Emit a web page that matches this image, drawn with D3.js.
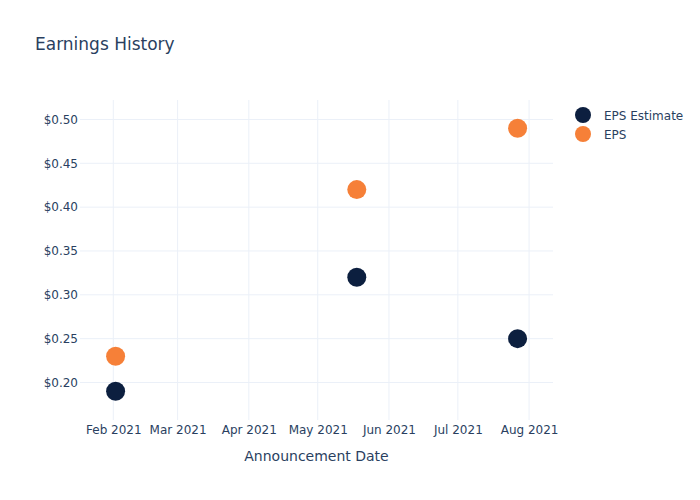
<!DOCTYPE html>
<html>
<head>
<meta charset="utf-8">
<script src="https://cdn.jsdelivr.net/npm/d3@7"></script>
<style>
  body { margin: 0; background: #fff; }
  text { font-family: "DejaVu Sans", sans-serif; fill: #2a3f5f; }
</style>
</head>
<body>
<svg id="chart"></svg>
<script>
const dates = ['2021-02-02', '2021-05-18', '2021-07-27'];
const epsEstimate = [0.19, 0.32, 0.25];
const eps = [0.23, 0.42, 0.49];
const yTicks = [0.20, 0.25, 0.30, 0.35, 0.40, 0.45, 0.50];
const seriesNames = ['EPS Estimate', 'EPS'];
const seriesColors = ['#0c1f3f', '#f68038'];

const width = 700;
const height = 500;
const margin = { top: 100, right: 147, bottom: 80, left: 80 };
const svg = d3.select('#chart').attr('width', width).attr('height', height);

const parse = d3.timeParse('%Y-%m-%d');
const xScale = d3.scaleTime()
  .domain([new Date(2021, 0, 17, 12), new Date(2021, 7, 11, 10)])
  .range([margin.left, width - margin.right]);

const yScale = d3.scaleLinear()
  .domain([0.1572, 0.5222])
  .range([height - margin.bottom, margin.top]);

// gridlines
const xTicks = d3.timeMonth.range(new Date(2021, 1, 1), new Date(2021, 7, 2));
svg.append('g')
  .selectAll('line')
  .data(xTicks)
  .join('line')
  .attr('x1', d => xScale(d)).attr('x2', d => xScale(d))
  .attr('y1', margin.top).attr('y2', height - margin.bottom)
  .attr('stroke', '#ebf0f8').attr('stroke-width', 1);

svg.append('g')
  .selectAll('line')
  .data(yTicks)
  .join('line')
  .attr('x1', margin.left).attr('x2', width - margin.right)
  .attr('y1', d => yScale(d)).attr('y2', d => yScale(d))
  .attr('stroke', '#ebf0f8').attr('stroke-width', 1);

// axes
const axisx = d3.axisBottom(xScale)
  .tickValues(xTicks)
  .tickFormat(d3.timeFormat('%b %Y'))
  .tickSize(0)
  .tickPadding(5);
const gx = svg.append('g')
  .attr('transform', `translate(0,${height - margin.bottom})`)
  .call(axisx);
gx.select('.domain').remove();
gx.selectAll('text').style('font-size', '12px').attr('fill', '#2a3f5f');

const axisy = d3.axisLeft(yScale)
  .tickValues(yTicks)
  .tickFormat(d => `$${d.toFixed(2)}`)
  .tickSize(0)
  .tickPadding(2);
const gy = svg.append('g')
  .attr('transform', `translate(${margin.left},0)`)
  .call(axisy);
gy.select('.domain').remove();
gy.selectAll('text').style('font-size', '12px').attr('fill', '#2a3f5f');

// points
const series = [epsEstimate, eps];
series.forEach((values, i) => {
  svg.append('g')
    .selectAll('circle')
    .data(values.map((v, j) => ({ date: parse(dates[j]), value: v })))
    .join('circle')
    .attr('cx', d => xScale(d.date))
    .attr('cy', d => yScale(d.value))
    .attr('r', 9.5)
    .attr('fill', seriesColors[i]);
});

// title
svg.append('text')
  .attr('x', 35).attr('y', 50)
  .style('font-size', '17px')
  .text('Earnings History');

// x axis title
svg.append('text')
  .attr('x', (margin.left + width - margin.right) / 2)
  .attr('y', 461)
  .attr('text-anchor', 'middle')
  .style('font-size', '14px')
  .text('Announcement Date');

// legend
const legend = svg.append('g').attr('transform', 'translate(583,115)');
seriesNames.forEach((name, i) => {
  legend.append('circle')
    .attr('cx', 0).attr('cy', i * 19)
    .attr('r', 8)
    .attr('fill', seriesColors[i]);
  legend.append('text')
    .attr('x', 21).attr('y', i * 19 + 4.5)
    .style('font-size', '12px')
    .text(name);
});
</script>
</body>
</html>
